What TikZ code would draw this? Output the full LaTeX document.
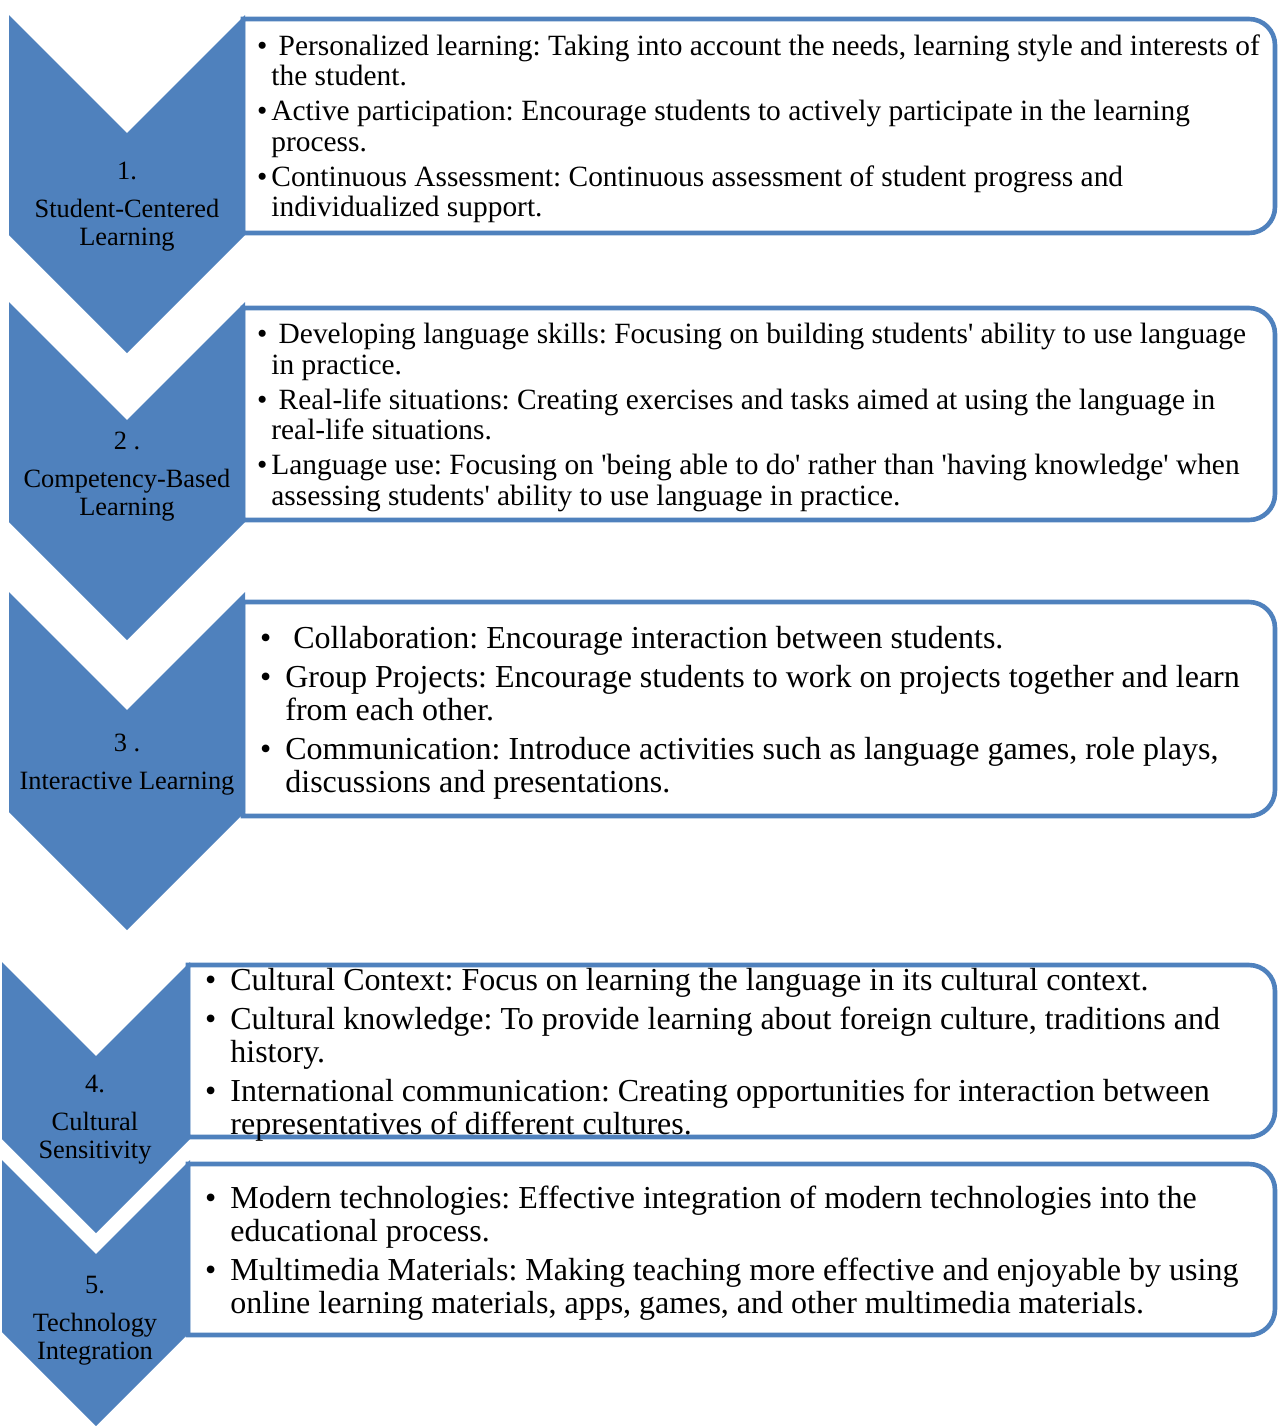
\documentclass[tikz,border=0pt]{standalone}
\usepackage{fontspec}
\setmainfont{Liberation Serif}[Ligatures=TeXOff]
\definecolor{chevblue}{RGB}{79,129,189}
\newcommand{\bul}[1][2pt]{\llap{\textbullet\hspace{#1}}}
\begin{document}
\frenchspacing
\begin{tikzpicture}[x=0.5pt, y=-0.5pt,
  chev/.style={fill=chevblue},
  infobox/.style={draw=chevblue, line width=2.3pt, fill=white},
  lab/.style={anchor=north, align=center, inner sep=0, font=\fontsize{13.2}{14}\selectfont},
  small/.style={anchor=north west, align=left, inner sep=0, font=\fontsize{14.7}{15.25}\selectfont},
  big/.style={anchor=north west, align=left, inner sep=0, font=\fontsize{16}{16.5}\selectfont}]
\useasboundingbox (0,0) rectangle (1278,1426);
% text boxes, rounded on the right
\foreach \t/\b/\l in {19/233/243, 308/520/243, 602/816/243, 965/1137/188, 1164/1335/188}
  \draw[infobox] (\l,\t) -- (1249,\t) arc[start angle=90, end angle=0, radius=13pt]
    -- (1275,\b-26) arc[start angle=0, end angle=-90, radius=13pt] -- (\l,\b) -- cycle;
% chevrons
\foreach \t/\b/\l/\r in {15/235/9/245, 302/522/9/245, 592/812/9/245, 962/1139/2/190, 1160/1332/2/190} {
  \pgfmathsetmacro{\c}{(\l+\r)/2}
  \pgfmathsetmacro{\d}{(\r-\l)/2}
  \fill[chev] (\l,\t) -- (\c,\t+\d) -- (\r,\t) -- (\r,\b) -- (\c,\b+\d) -- (\l,\b) -- cycle;
}
% chevron labels
\node[lab] (lab1) at (127,162) {1.\\[5pt]Student-Centered\\Learning};
\node[lab] (lab2) at (127,432) {2 .\\[5pt]Competency-Based\\Learning};
\node[lab] (lab3) at (127,734) {3 .\\[5pt]Interactive Learning};
\node[lab] (lab4) at (95,1075) {4.\\[5pt]Cultural\\Sensitivity};
\node[lab] (lab5) at (95,1276) {5.\\[5pt]Technology\\Integration};
% box texts
\node[small] (txt1) at (271,34) {\bul\ Personalized learning: Taking into account the needs, learning style and interests of\\the student.\\[2.25pt]\bul Active participation: Encourage students to actively participate in the learning\\process.\\[2.25pt]\bul Continuous Assessment: Continuous assessment of student progress and\\individualized support.};
\node[small] (txt2) at (271,323) {\bul\ Developing language skills: Focusing on building students' ability to use language\\in practice.\\[2.25pt]\bul\ Real-life situations: Creating exercises and tasks aimed at using the language in\\real-life situations.\\[2.25pt]\bul Language use: Focusing on 'being able to do' rather than 'having knowledge' when\\assessing students' ability to use language in practice.};
\node[big] (txt3) at (285,626) {\bul[7pt]\ Collaboration: Encourage interaction between students.\\[3pt]\bul[7pt]Group Projects: Encourage students to work on projects together and learn\\from each other.\\[3pt]\bul[7pt]Communication: Introduce activities such as language games, role plays,\\discussions and presentations.};
\node[big] (txt4) at (230,968) {\bul[7pt]Cultural Context: Focus on learning the language in its cultural context.\\[3pt]\bul[7pt]Cultural knowledge: To provide learning about foreign culture, traditions and\\history.\\[3pt]\bul[7pt]International communication: Creating opportunities for interaction between\\representatives of different cultures.};
\node[big] (txt5) at (230,1186) {\bul[7pt]Modern technologies: Effective integration of modern technologies into the\\educational process.\\[3pt]\bul[7pt]Multimedia Materials: Making teaching more effective and enjoyable by using\\online learning materials, apps, games, and other multimedia materials.};
\end{tikzpicture}
\end{document}
